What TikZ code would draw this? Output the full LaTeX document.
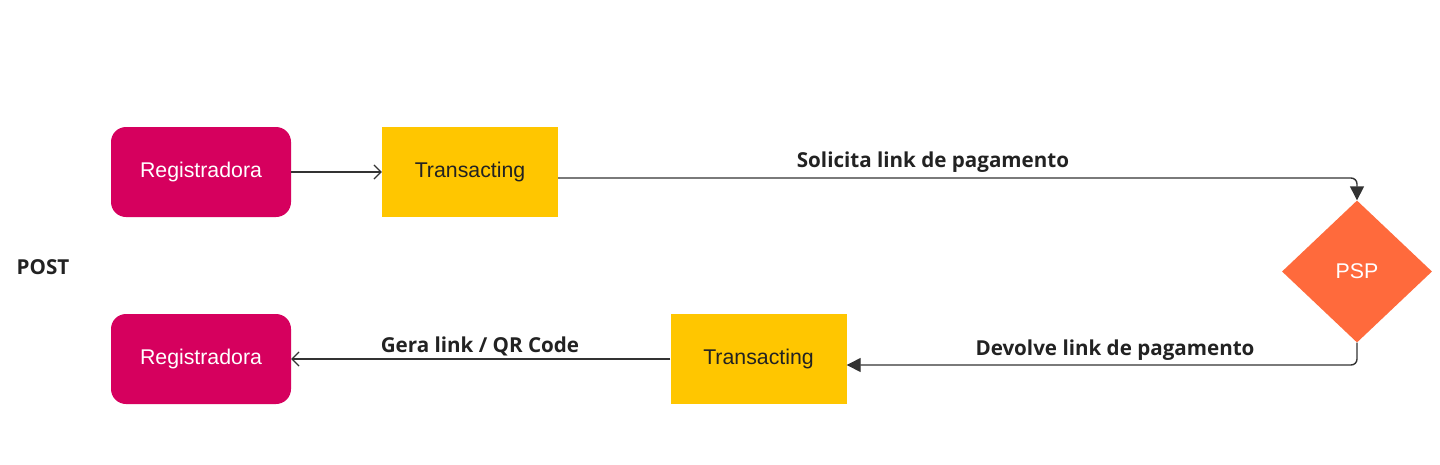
\documentclass[tikz,border=0pt]{standalone}
\usepackage{fontspec}
\setmainfont{Liberation Sans}
\newfontfamily\lblfont{Open Sans}
\usetikzlibrary{shapes.geometric,arrows.meta,calc}
\definecolor{regcol}{HTML}{D6005E}
\definecolor{trcol}{HTML}{FFC600}
\definecolor{pspcol}{HTML}{FF6A3C}
\definecolor{linecol}{HTML}{333333}
\definecolor{txtcol}{HTML}{222222}
\begin{document}
\begin{tikzpicture}[x=1pt,y=-1pt,
  regbox/.style={fill=regcol,draw=none,rounded corners=15pt,minimum width=180pt,minimum height=90pt,text=white,font=\fontsize{21.3}{25}\selectfont},
  trbox/.style={fill=trcol,draw=none,minimum width=176pt,minimum height=90pt,text=txtcol,font=\fontsize{21.3}{25}\selectfont},
  pspbox/.style={diamond,fill=pspcol,draw=none,minimum width=150pt,minimum height=142pt,inner sep=0pt,text=white,font=\fontsize{21.3}{25}\selectfont},
  conn/.style={draw=linecol,line width=1.4pt},
  openarr/.style={conn,-{Straight Barb[length=7pt,width=14pt,line width=1.2pt]}},
  fillarr/.style={conn,rounded corners=6pt,-{Triangle[length=14pt,width=14pt]}},
  lbl/.style={font=\lblfont\bfseries\fontsize{20.6}{24}\selectfont,text=txtcol,inner sep=0pt}]
\useasboundingbox[fill=white] (0,0) rectangle (1440,464);
\node[regbox] (r1) at (201,172) {Registradora};
\node[trbox] (t1) at (470,172) {Transacting};
\node[pspbox] (psp) at (1357,271.5) {PSP};
\node[trbox] (t2) at (758.5,359) {Transacting};
\node[regbox] (r2) at (201,359) {Registradora};
\node[lbl] (post) at (43,267) {POST};
\draw[openarr] (r1.east) -- (t1.west);
\draw[fillarr] ([yshift=-6pt]t1.east) -| (psp.north);
\draw[fillarr] (psp.south) |- ([yshift=-6pt]t2.east);
\draw[openarr] (t2.west) -- (r2.east);
\node[lbl] (l1) at (933,162) {Solicita link de pagamento};
\node[lbl] (l2) at (1115,350) {Devolve link de pagamento};
\node[lbl] (l3) at (480,346) {Gera link / QR Code};
\end{tikzpicture}
\end{document}
